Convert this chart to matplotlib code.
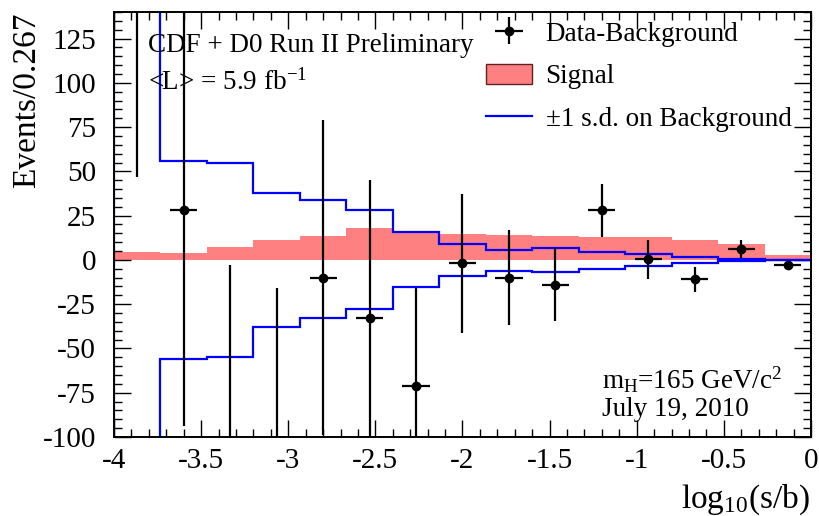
import numpy as np
import matplotlib
matplotlib.use("Agg")
import matplotlib.pyplot as plt
from matplotlib.ticker import MultipleLocator, FormatStrFormatter
from matplotlib.patches import Patch
from matplotlib.lines import Line2D

plt.rcParams['font.family'] = ['Liberation Serif', 'DejaVu Serif']
plt.rcParams['mathtext.fontset'] = 'custom'
plt.rcParams['mathtext.rm'] = 'Liberation Serif'
plt.rcParams['mathtext.it'] = 'Liberation Serif:italic'
plt.rcParams['axes.unicode_minus'] = False

# ---- data ----
bin_edges = np.linspace(-4.0, 0.0, 16)
data_minus_bkg = [190, 28, -125, -130, -10, -33, -71, -2, -10, -14, 28, 0.5, -11, 6, -2.7]
data_err = [143, 122, 122, 114, 89, 78, 55, 39, 27, 20.5, 15, 11, 7, 5, 1.2]
signal = [4.5, 4, 7.3, 11.3, 13.6, 18, 15.5, 14.7, 14, 13.6, 13.2, 13.2, 11.3, 9, 3]
bkg_up = [250, 56, 55, 38, 34, 28, 15.5, 9, 5.7, 6.8, 4.5, 3.2, 1.7, 0.3, 0.1]
bkg_down = [-250, -56, -55, -38, -33, -28, -15.5, -9, -6, -6.8, -5, -3.2, -1.5, -0.4, -0.1]

centers = 0.5 * (bin_edges[:-1] + bin_edges[1:])

W, H = 820, 516
fig = plt.figure(figsize=(8.2, 5.16), dpi=100)
ax = fig.add_axes([114/W, 79/H, (811-114)/W, (437-12)/H])

red = '#ff8080'
ax.stairs(signal, bin_edges, baseline=0, fill=True, color=red, lw=0, zorder=1)
ax.stairs(bkg_up, bin_edges, baseline=0, color='#0000ff', lw=1.6, zorder=2)
ax.stairs(bkg_down, bin_edges, baseline=0, color='#0000ff', lw=1.6, zorder=2)
ax.errorbar(centers, data_minus_bkg, yerr=data_err, xerr=0.078, fmt='o', color='black',
            ms=6, elinewidth=1.6, capsize=0, zorder=3)

ax.set_xlim(-4, 0)
ax.set_ylim(-100, 140)
ax.xaxis.set_major_locator(MultipleLocator(0.5))
ax.xaxis.set_minor_locator(MultipleLocator(0.1))
ax.xaxis.set_major_formatter(FormatStrFormatter('%g'))
ax.yaxis.set_major_locator(MultipleLocator(25))
ax.yaxis.set_minor_locator(MultipleLocator(5))
ax.yaxis.set_major_formatter(FormatStrFormatter('%g'))
ax.tick_params(which='both', direction='in', top=True, right=True, width=1.0)
ax.tick_params(which='major', length=12)
ax.tick_params(which='minor', length=6)
ax.tick_params(axis='x', which='major', labelsize=21, pad=8)
ax.tick_params(axis='y', which='major', labelsize=21, pad=13)
for s in ax.spines.values():
    s.set_linewidth(1.4)

fig.text(27/W, 1 - 12/H, 'Events/0.267', rotation=90, ha='center', va='top', fontsize=24)
fig.text(810/W, 1 - 500/H, r'log$_{10}$(s/b)', ha='right', va='center', fontsize=24)

fs = 19.5
fig.text(148/W, 1 - 45/H, 'CDF + D0 Run II Preliminary', ha='left', va='center', fontsize=fs)
fig.text(148/W, 1 - 82/H, r'<L> = 5.9 fb$^{-1}$', ha='left', va='center', fontsize=fs)
fig.text(602/W, 1 - 380/H, r'm$_{\mathrm{H}}$=165 GeV/c$^{2}$', ha='left', va='center', fontsize=fs)
fig.text(602/W, 1 - 410/H, 'July 19, 2010', ha='left', va='center', fontsize=fs)

h_data = ax.errorbar([], [], yerr=[], xerr=[], fmt='o', color='black', ms=6,
                     elinewidth=1.6, capsize=0)
h_sig = Patch(facecolor=red, edgecolor='#602020', lw=1.0)
h_bkg = Line2D([], [], color='#0000ff', lw=1.6)
leg = ax.legend([h_data, h_sig, h_bkg], ['Data-Background', 'Signal', '±1 s.d. on Background'],
                loc='upper left', bbox_to_anchor=(486/W, 1 - 21/H), bbox_transform=fig.transFigure,
                frameon=False, fontsize=fs, handlelength=1.7, handletextpad=0.5,
                labelspacing=0.62, handleheight=0.8, borderaxespad=0, borderpad=0)

fig.savefig('out.png', dpi=100)
